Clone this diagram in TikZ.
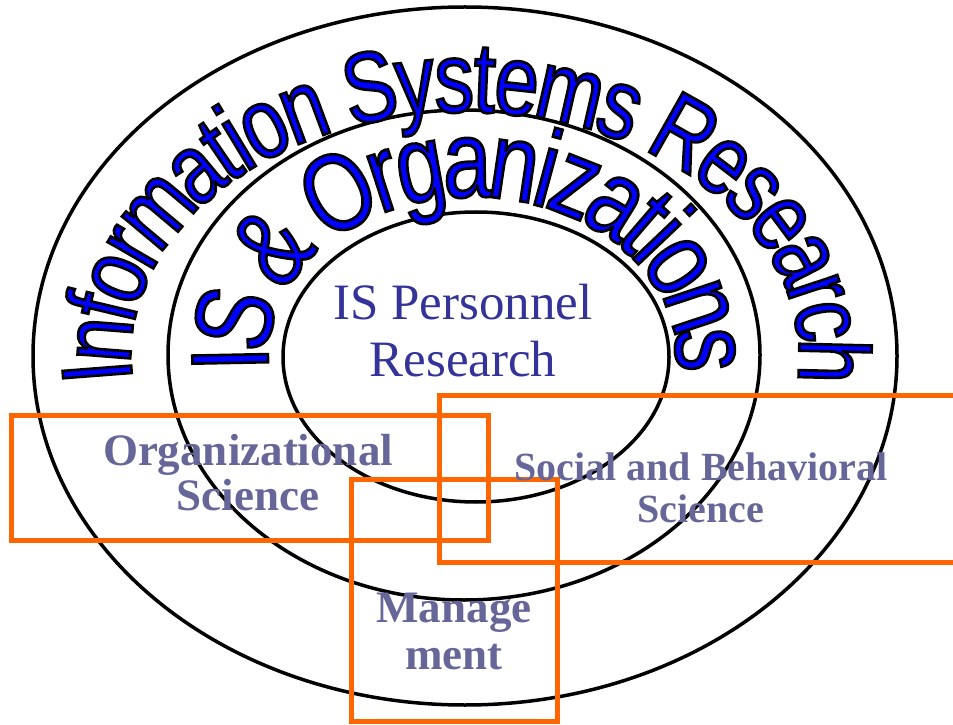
\documentclass[tikz,border=0pt]{standalone}
\usepackage{fontspec}
\setmainfont{Liberation Serif}
\newfontfamily\arcfont[FakeStretch=0.79]{Liberation Sans}
\usetikzlibrary{decorations.text}
\definecolor{coreblue}{RGB}{51,51,153}
\definecolor{fieldgray}{RGB}{102,102,153}
\definecolor{fieldorange}{RGB}{255,102,0}
% blue letters with a black rim
\newcommand\rimtext{\special{pdf:literal direct 2 Tr 2.6 w 0 0 0 RG 0 0 1 rg}}
\newcommand\outerword{\arcfont\fontsize{100}{100}\selectfont\rimtext}
\newcommand\innerword{\arcfont\fontsize{110}{110}\selectfont\rimtext}
\tikzset{
  ring/.style={draw=black,line width=3.5pt},
  fieldbox/.style={draw=fieldorange,line width=5pt},
  coretext/.style={text=coreblue,align=center,inner sep=0pt,font=\fontsize{51}{57}\selectfont},
  fieldtext/.style={text=fieldgray,align=center,inner sep=0pt,font=\fontsize{45}{46}\selectfont\bfseries}
}

\begin{document}
\begin{tikzpicture}[x=1pt,y=1pt]
\useasboundingbox (0,0) rectangle (953,724);
\coordinate (outerc) at (465,368);
\coordinate (midc) at (464,369);
\coordinate (innerc) at (476,367);

% rings
\draw[ring] (outerc) ellipse [x radius=432pt,y radius=349pt];
\draw[ring] (midc) ellipse [x radius=296pt,y radius=245pt];
\draw[ring] (innerc) ellipse [x radius=193pt,y radius=145pt];

% overlapping fields
\draw[fieldbox] (11,309) rectangle (488,184);
\draw[fieldbox] (439,329) rectangle (970,162);
\draw[fieldbox] (351,245) rectangle (557,3);

\node[coretext] (core) at (463,393) {IS Personnel\\Research};
\node[fieldtext,font=\fontsize{45}{45}\selectfont\bfseries] (orgsci) at (248,251) {Organizational\\Science};
\node[fieldtext,font=\fontsize{40}{42}\selectfont\bfseries] (socsci) at (701,236) {Social and Behavioral\\Science};
\node[fieldtext,font=\fontsize{45}{47}\selectfont\bfseries] (mgmt) at (454,93) {Manage\\ment};

% arched titles
\path[decorate,decoration={text along path,text align=center,raise=-36pt,
  text={|\outerword|Information Systems Research}}]
  ([shift={(outerc)}]192:370pt and 280pt) arc [start angle=192,end angle=-12,x radius=370pt,y radius=280pt];
\path[decorate,decoration={text along path,text align=center,raise=-39pt,
  text={|\innerword|IS {\&} Organizations}}]
  ([shift={(472,368)}]192:243pt and 198pt) arc [start angle=192,end angle=-12,x radius=243pt,y radius=198pt];
\end{tikzpicture}
\end{document}
